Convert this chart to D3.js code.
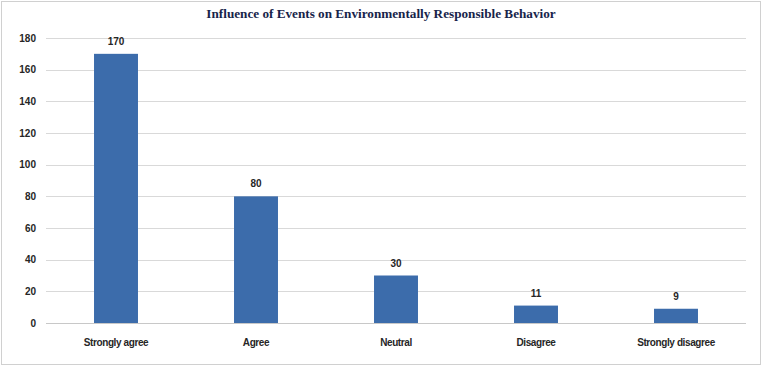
<!DOCTYPE html>
<html>
<head>
<meta charset="utf-8">
<script src="https://cdn.jsdelivr.net/npm/d3@7"></script>
<style>
  body { margin: 0; background: #fff; }
  text { font-family: "Liberation Sans", Arial, sans-serif; }
</style>
</head>
<body>
<div id="chart"></div>
<script>
// Responses to the survey question, one bar per answer
const categories = ["Strongly agree", "Agree", "Neutral", "Disagree", "Strongly disagree"];
const counts = [170, 80, 30, 11, 9];
const yTicks = [0, 20, 40, 60, 80, 100, 120, 140, 160, 180];

const width = 764, height = 367;
const margin = {top: 38, right: 18, bottom: 44, left: 46};

const svg = d3.select("#chart").append("svg")
    .attr("width", width)
    .attr("height", height);

// outer frame
svg.append("rect")
    .attr("x", 1.5).attr("y", 1.5)
    .attr("width", 759).attr("height", 363)
    .attr("fill", "#fff")
    .attr("stroke", "#d0d0d0");

svg.append("text")
    .attr("x", 381).attr("y", 18)
    .attr("text-anchor", "middle")
    .style("font-family", "'Liberation Serif', 'Times New Roman', serif")
    .style("font-weight", "bold")
    .style("font-size", "13.2px")
    .attr("fill", "#17244a")
    .text("Influence of Events on Environmentally Responsible Behavior");

const x = d3.scaleBand()
    .domain(categories)
    .range([margin.left, width - margin.right])
    .paddingInner(0.686)
    .paddingOuter(0.343);

const y = d3.scaleLinear()
    .domain([0, 180])
    .range([height - margin.bottom, margin.top]);

// gridlines
svg.append("g")
    .selectAll("line")
    .data(yTicks)
    .join("line")
    .attr("x1", margin.left).attr("x2", width - margin.right)
    .attr("y1", d => Math.round(y(d)) + 0.5).attr("y2", d => Math.round(y(d)) + 0.5)
    .attr("stroke", d => d === 0 ? "#c8c8c8" : "#d9d9d9");

// y axis labels
const yAxis = d3.axisLeft(y).tickValues(yTicks).tickSize(0).tickPadding(10);
svg.append("g")
    .attr("transform", `translate(${margin.left},0)`)
    .call(yAxis)
    .call(g => g.select(".domain").remove())
    .selectAll("text")
    .style("font-size", "10px")
    .style("font-weight", "bold")
    .attr("fill", "#262626");

// bars
svg.append("g")
    .selectAll("rect")
    .data(counts)
    .join("rect")
    .attr("x", (d, i) => x(categories[i]))
    .attr("y", d => y(d))
    .attr("width", x.bandwidth())
    .attr("height", d => y(0) - y(d))
    .attr("fill", "#3c6cab");

// value labels above bars
svg.append("g")
    .selectAll("text")
    .data(counts)
    .join("text")
    .attr("x", (d, i) => x(categories[i]) + x.bandwidth() / 2)
    .attr("y", d => y(d) - 9)
    .attr("text-anchor", "middle")
    .style("font-size", "10px")
    .style("font-weight", "bold")
    .attr("fill", "#262626")
    .text(d => d);

// category labels
const xAxis = d3.axisBottom(x).tickSize(0).tickPadding(16);
svg.append("g")
    .attr("transform", `translate(0,${y(0)})`)
    .call(xAxis)
    .call(g => g.select(".domain").remove())
    .selectAll("text")
    .style("font-size", "10px")
    .style("font-weight", "bold")
    .style("letter-spacing", "-0.4px")
    .attr("fill", "#262626");
</script>
</body>
</html>
